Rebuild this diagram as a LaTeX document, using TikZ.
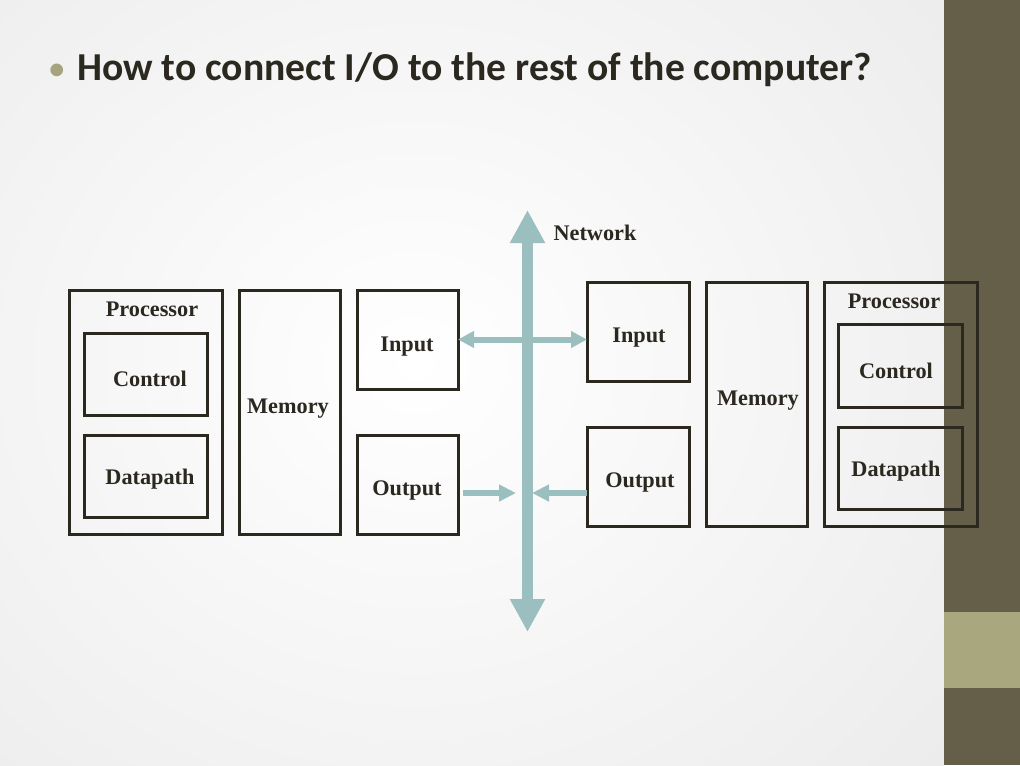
\documentclass[tikz,border=0pt]{standalone}
\usepackage{fontspec}
\setmainfont{Liberation Serif}
\newfontfamily\titlefont{Carlito}
\usetikzlibrary{arrows.meta}
\definecolor{barcol}{HTML}{655E48}
\definecolor{barlight}{HTML}{A9A77E}
\definecolor{buscol}{HTML}{9BBFBE}
\definecolor{ink}{HTML}{2B2820}
\definecolor{bulletcol}{HTML}{A6A47E}
\begin{document}
\begin{tikzpicture}[x=0.75pt,y=-0.75pt,
  box/.style={draw=ink,line width=2.25pt,inner sep=0pt,outer sep=0pt},
  lbl/.style={font=\bfseries\fontsize{16.7}{18}\selectfont,text=ink,inner sep=0pt,text height=11.3pt,text depth=0pt},
  busarrow/.style={draw=buscol,line width=8.25pt,{Triangle[length=24.75pt,width=24.75pt]}-{Triangle[length=24.75pt,width=24.75pt]}},
  dblarrow/.style={draw=buscol,line width=4.5pt,{Triangle[length=12pt,width=12pt]}-{Triangle[length=12pt,width=12pt]}},
  ioarrow/.style={draw=buscol,line width=4.5pt,-{Triangle[length=12.75pt,width=12pt]}}
]
% background
\useasboundingbox (0,0) rectangle (1020,765);
\begin{scope}
\clip (0,0) rectangle (944,765);
\shade[inner color=white,outer color=black!9] (-420,-380) rectangle (1250,1110);
\end{scope}
\fill[barcol] (944,0) rectangle (1020,765);
\fill[barlight] (944,612) rectangle (1020,688);

% title
\node[anchor=base west,font=\titlefont\bfseries\fontsize{29.7}{34}\selectfont,text=ink,inner sep=0pt] (title) at (77,80) {How to connect I/O to the rest of the computer?};
\node[anchor=base east,font=\titlefont\fontsize{27}{32}\selectfont,text=bulletcol,inner sep=0pt] (bullet) at (66,80) {•};

% left computer
\node[box,minimum width=153*0.75pt,minimum height=244*0.75pt] (lproc) at (145.5,412) {};
\node[box,minimum width=123*0.75pt,minimum height=82*0.75pt] (lctrl) at (145.5,374) {};
\node[box,minimum width=123*0.75pt,minimum height=82*0.75pt] (ldata) at (145.5,476) {};
\node[box,minimum width=101*0.75pt,minimum height=244*0.75pt] (lmem) at (289.5,412) {};
\node[box,minimum width=101*0.75pt,minimum height=99*0.75pt] (lin) at (407.5,339.5) {};
\node[box,minimum width=101*0.75pt,minimum height=99*0.75pt] (lout) at (407.5,484.5) {};

% right computer
\node[box,minimum width=102*0.75pt,minimum height=99*0.75pt] (rin) at (638,331.5) {};
\node[box,minimum width=102*0.75pt,minimum height=99*0.75pt] (rout) at (638,476.5) {};
\node[box,minimum width=101*0.75pt,minimum height=244*0.75pt] (rmem) at (756.5,404) {};
\node[box,minimum width=153*0.75pt,minimum height=244*0.75pt] (rproc) at (900.5,404) {};
\node[box,minimum width=124*0.75pt,minimum height=83*0.75pt] (rctrl) at (900,365.5) {};
\node[box,minimum width=124*0.75pt,minimum height=82*0.75pt] (rdata) at (900,468) {};

% labels
\node[lbl] (tlproc) at (152,309) {Processor};
\node[lbl] (tlctrl) at (150,379) {Control};
\node[lbl] (tldata) at (150,477) {Datapath};
\node[lbl] (tlmem) at (288,406) {Memory};
\node[lbl] (tlin) at (407,344) {Input};
\node[lbl] (tlout) at (407,488) {Output};
\node[lbl] (trin) at (639,335) {Input};
\node[lbl] (trout) at (640,480) {Output};
\node[lbl] (trmem) at (758,398) {Memory};
\node[lbl] (trproc) at (894,301) {Processor};
\node[lbl] (trctrl) at (896,371) {Control};
\node[lbl] (trdata) at (896,469) {Datapath};
\node[lbl] (tnet) at (595,233) {Network};

% network bus
\coordinate (bustop) at (527.5,210);
\coordinate (busbot) at (527.5,632);
\coordinate (busL) at (516,493);
\coordinate (busR) at (532,493);
\draw[dblarrow] (lin.east) -- (lin.east -| rin.west);
\draw[ioarrow] ([xshift=3.75pt]lout.east |- busL) -- (busL);
\draw[ioarrow] (rout.west |- busR) -- (busR);
\draw[busarrow] (busbot) -- (bustop);
\end{tikzpicture}
\end{document}
